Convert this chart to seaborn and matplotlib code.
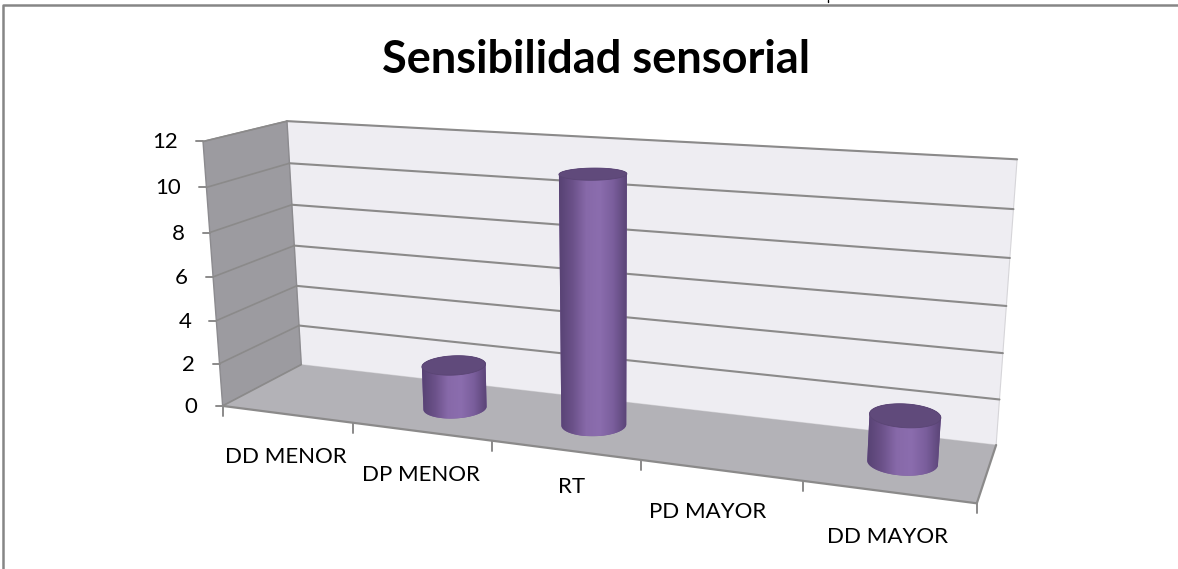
import numpy as np
import matplotlib
matplotlib.use("Agg")
import matplotlib.pyplot as plt
import seaborn as sns
from matplotlib.colors import LinearSegmentedColormap
from matplotlib.patches import Polygon
from matplotlib.transforms import Transform

categorias = ["DD MENOR", "DP MENOR", "RT", "PD MAYOR", "DD MAYOR"]
valores = [0, 2, 11, 0, 2]
ticks_y = [0, 2, 4, 6, 8, 10, 12]

sns.set_theme(style="white")
plt.rcParams["font.family"] = ["Lato", "DejaVu Sans"]

# camera fit: box corners (category, value, depth) -> where they sit on the picture
caja = np.array([
    (0, 12, 0), (0, 12, 1), (0, 0, 0), (0, 0, 1), (5, 12, 1), (5, 0, 1), (5, 0, 0),
    (1, 0, 0), (2, 0, 0), (3, 0, 0), (4, 0, 0), (0, 2, 1), (5, 2, 1),
], dtype=float)
pantalla = np.array([
    (203, 141), (287, 121), (223, 405), (301, 365), (1017, 160), (996, 444), (977, 502),
    (353, 422), (492, 441), (640, 462), (803, 482), (299, 326), (1000, 399),
], dtype=float)

filas = []
for (c, v, d), (u, w) in zip(caja, pantalla):
    filas.append([c, v, d, 1, 0, 0, 0, 0, -u * c, -u * v, -u * d, -u])
    filas.append([0, 0, 0, 0, c, v, d, 1, -w * c, -w * v, -w * d, -w])
camara = np.linalg.svd(np.array(filas))[2][-1].reshape(3, 4)


def proyectar(c, v, d):
    c, v, d = np.broadcast_arrays(c, v, d)
    p = np.stack([c, v, d, np.ones_like(c, dtype=float)], axis=-1) @ camara.T
    return p[..., :2] / p[..., 2:]


def envolvente(puntos):
    # convex hull, gives the outline of a cylinder from its two end ellipses
    pts = sorted(map(tuple, puntos))

    def media(seq):
        out = []
        for p in seq:
            while len(out) > 1 and np.cross(np.subtract(out[-1], out[-2]), np.subtract(p, out[-1])) <= 0:
                out.pop()
            out.append(p)
        return out[:-1]

    return np.array(media(pts) + media(pts[::-1]))


class Frente(Transform):
    # barplot coordinates (bar position, value) -> picture, at mid depth
    input_dims = 2
    output_dims = 2
    is_separable = False

    def transform_non_affine(self, xy):
        xy = np.asarray(xy, dtype=float)
        return proyectar(xy[:, 0] + 0.5, xy[:, 1], 0.5)


fig = plt.figure(figsize=(11.78, 5.69), dpi=100, facecolor="white")
ax = fig.add_axes([0, 0, 1, 1])

RADIO = 0.21
RADIO_D = 0.22
sns.barplot(x=categorias, y=valores, color="#77599a", width=2 * RADIO, saturation=1, ax=ax, zorder=4)
barras = list(ax.patches)

ax.set_xlim(0, 1178)
ax.set_ylim(569, 0)
ax.autoscale(False)
ax.axis("off")

frente = Frente() + ax.transData
for b in barras:
    b.set_transform(frente)
    b.set_linewidth(0)

# walls and floor
pared = proyectar([0, 5, 5, 0], [12, 12, 0, 0], 1)
lateral = proyectar(0, [12, 12, 0, 0], [0, 1, 1, 0])
piso = proyectar([0, 5, 5, 0], 0, [0, 0, 1, 1])
ax.add_patch(Polygon(pared, fc="#eeedf2", ec="#d6d5d9", lw=0.8, zorder=1))
ax.add_patch(Polygon(lateral, fc="#9c9ba0", ec="#8c8b8f", lw=1, zorder=1))
ax.add_patch(Polygon(piso, fc="#b3b2b7", ec="none", zorder=1))

GRIS = "#8b8a8a"
for v in ticks_y:
    atras = proyectar([0, 5], v, 1)
    if v > 0:
        ax.plot(atras[:, 0], atras[:, 1], color=GRIS, lw=1.5, zorder=2)
    lado = proyectar(0, v, [0, 1])
    ax.plot(lado[:, 0], lado[:, 1], color=GRIS, lw=1.2, zorder=2)
    x0, y0 = lado[0]
    ax.plot([x0 - 7, x0], [y0, y0], color=GRIS, lw=1.4, zorder=2)
    ax.text(x0 - 25, y0 + 1, str(v), ha="right", va="center", fontsize=16, color="black")

borde = proyectar([0, 5, 5], 0, [0, 0, 1])
ax.plot(borde[:, 0], borde[:, 1], color=GRIS, lw=1.6, zorder=2)
for i in range(6):
    x0, y0 = proyectar(i, 0, 0)
    ax.plot([x0, x0], [y0, y0 + 10], color=GRIS, lw=1.4, zorder=2)

# label nudges along the axis, these do not sit exactly at the category centre
ajuste_x = [-1, 0, 6, -13, -1]
ajuste_y = [43, 43, 37, 42, 45]
for i, nombre in enumerate(categorias):
    x0, y0 = proyectar(i + 0.5, 0, 0)
    ax.text(x0 + ajuste_x[i], y0 + ajuste_y[i], nombre, ha="center", va="center", fontsize=16, color="black")

# cylinders on top of the seaborn bars
mapa = LinearSegmentedColormap.from_list("cil", ["#574273", "#6b5189", "#8769a9", "#8b6dae", "#7a5e9c", "#5a4476"])
gradiente = np.linspace(0, 1, 256).reshape(1, -1)
t_todo = np.linspace(0, 2 * np.pi, 120)
for b in barras:
    alto = b.get_height()
    if alto == 0:
        continue
    c = b.get_x() + b.get_width() / 2 + 0.5
    arriba = proyectar(c + RADIO * np.cos(t_todo), alto, 0.5 + RADIO_D * np.sin(t_todo))
    abajo = proyectar(c + RADIO * np.cos(t_todo), 0, 0.5 + RADIO_D * np.sin(t_todo))
    contorno = envolvente(np.vstack([arriba, abajo]))
    cuerpo = Polygon(contorno, fc="#77599a", ec="none", zorder=5)
    ax.add_patch(cuerpo)
    im = ax.imshow(gradiente, cmap=mapa, aspect="auto", zorder=6,
                   extent=(contorno[:, 0].min(), contorno[:, 0].max(), contorno[:, 1].max(), contorno[:, 1].min()))
    im.set_clip_path(cuerpo)
    ax.add_patch(Polygon(arriba, fc="#604a7b", ec="#5a4574", lw=0.6, zorder=7))

ax.set_xlim(0, 1178)
ax.set_ylim(569, 0)

# frame of the chart
ax.plot([3, 3, 1178], [569, 5, 5], color="#868686", lw=1.8, zorder=8, clip_on=False)
ax.plot([828, 828], [0, 2], color="black", lw=1, zorder=8)

ax.text(596, 60, "Sensibilidad sensorial", ha="center", va="center", fontsize=32.5, fontweight="bold", color="black")

fig.savefig("out.png", dpi=100)
